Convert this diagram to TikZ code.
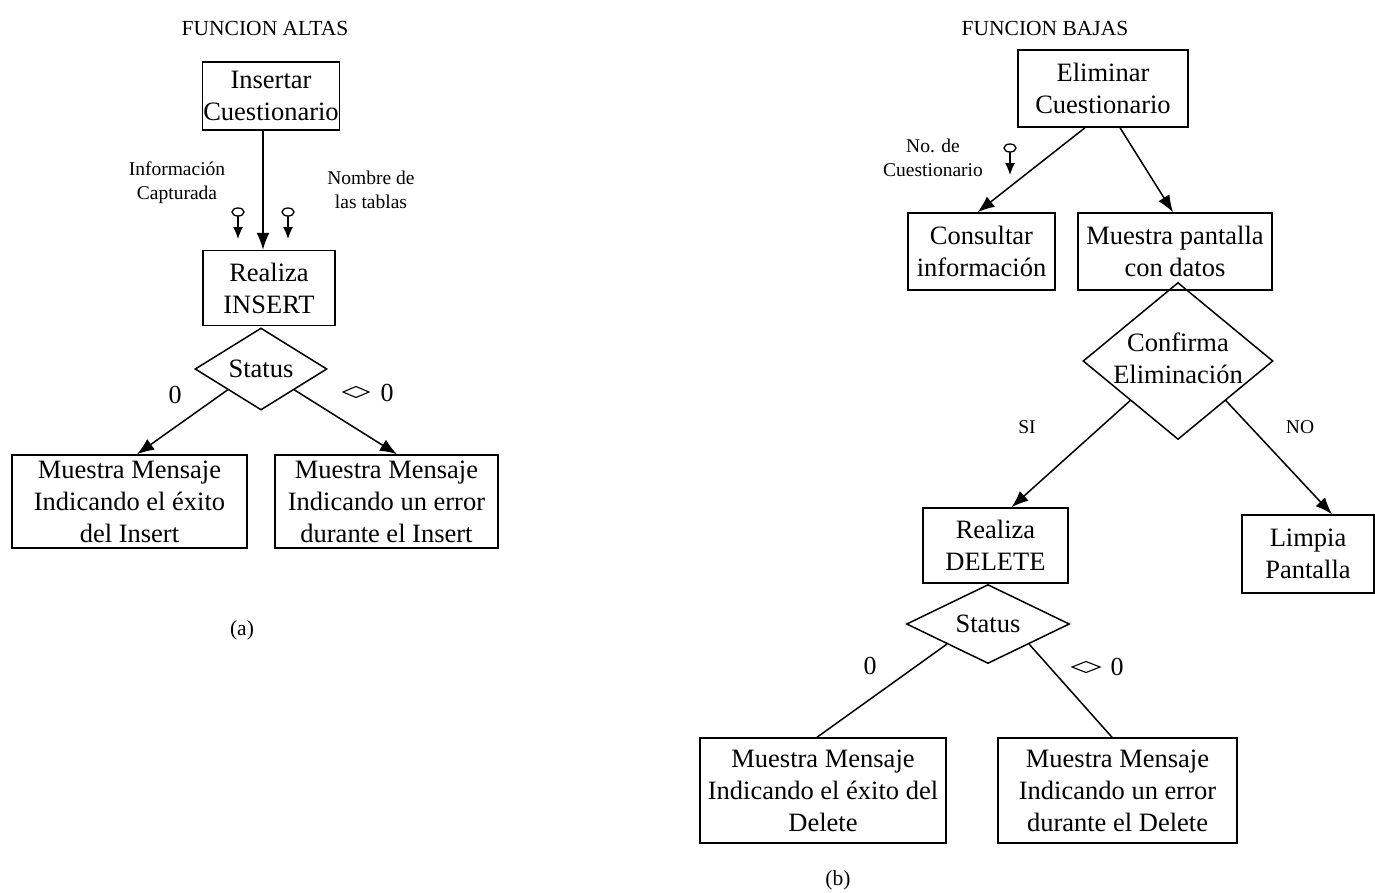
\documentclass[tikz,border=0pt]{standalone}
\usepackage{fontspec}
\setmainfont{Liberation Serif}
\usetikzlibrary{shapes.geometric,arrows.meta}
\begin{document}
\begin{tikzpicture}[x=1pt,y=-1pt,
  box/.style={draw, line width=1.5pt, inner sep=0pt, align=center,
    font=\fontsize{26.5}{32}\selectfont},
  dec/.style={draw, diamond, line width=1.5pt, inner sep=0pt},
  dectext/.style={align=center, font=\fontsize{26.5}{32}\selectfont},
  lbl/.style={align=center, font=\fontsize{19.5}{24}\selectfont},
  ttl/.style={font=\fontsize{21.5}{26}\selectfont},
  val/.style={font=\fontsize{26}{30}\selectfont},
  flow/.style={line width=1.5pt, -{Latex[length=17pt,width=13pt]}},
  link/.style={line width=1.5pt},
  neq/.style={line width=1.1pt},
  datokey/.pic={
    \draw[line width=1.3pt] (0,0) ellipse (6 and 4);
    \draw[line width=1.3pt, -{Latex[length=12pt,width=10pt]}] (0,4) -- (0,27);
  }
]
\useasboundingbox (0,0) rectangle (1375,892);

% ---------------- FUNCION ALTAS ----------------
\node[ttl] (t1) at (265,28) {FUNCION ALTAS};
\node[box, minimum width=137pt, minimum height=68pt] (ins) at (271,96) {Insertar\\Cuestionario};
\node[box, minimum width=132pt, minimum height=75pt] (real) at (269,288) {Realiza\\INSERT};
\node[dec, minimum width=132pt, minimum height=82pt] (st1) at (261,369) {};
\node[dectext] at (st1.center) {Status};
\node[box, minimum width=235pt, minimum height=93pt] (b1) at (129.5,501.5)
  {Muestra Mensaje\\Indicando el éxito\\del Insert};
\node[box, minimum width=223pt, minimum height=93pt] (b2) at (386.5,501.5)
  {Muestra Mensaje\\Indicando un error\\durante el Insert};

\node[lbl] (l1) at (177,183) {Información\\Capturada};
\node[lbl] (l2) at (371,190) {Nombre de\\las tablas};
\pic at (238,212) {datokey};
\pic at (288,212) {datokey};

\draw[flow] ([xshift=-8pt]ins.south) -- ([xshift=-6pt]real.north);
\draw[flow] (st1.south west) -- ([xshift=7.5pt]b1.north);
\draw[flow] (st1.south east) -- ([xshift=10.5pt]b2.north);

\node[val] (z1) at (175,395) {0};
\node[val] (n1) at (387,393) {0};
\draw[neq] (343,392) -- (356,386.5) -- (369,392) -- (356,397.5) -- cycle;
\node[ttl] (ca) at (242,630) {(a)};

% ---------------- FUNCION BAJAS ----------------
\node[ttl] (t2) at (1045,28) {FUNCION BAJAS};
\node[box, minimum width=170pt, minimum height=77pt] (elim) at (1103,88.5) {Eliminar\\Cuestionario};
\node[box, minimum width=147pt, minimum height=77pt] (cons) at (981.5,251.5) {Consultar\\información};
\node[box, minimum width=194pt, minimum height=77pt] (mp) at (1175,251.5) {Muestra pantalla\\con datos};
\node[dec, minimum width=190pt, minimum height=157pt] (conf) at (1178,361) {};
\node[dectext] at (1178,358) {Confirma\\Eliminación};
\node[box, minimum width=145pt, minimum height=75pt] (del) at (995.5,545.5) {Realiza\\DELETE};
\node[box, minimum width=132pt, minimum height=78pt] (limp) at (1308,554) {Limpia\\Pantalla};
\node[dec, minimum width=163pt, minimum height=79pt] (st2) at (988,624) {};
\node[dectext] at (st2.center) {Status};
\node[box, minimum width=246pt, minimum height=105pt] (b3) at (823,790.5)
  {Muestra Mensaje\\Indicando el éxito del\\Delete};
\node[box, minimum width=239pt, minimum height=105pt] (b4) at (1117.5,790.5)
  {Muestra Mensaje\\Indicando un error\\durante el Delete};

\node[lbl] (l3) at (933,158) {No. de\\Cuestionario};
\pic at (1010,148) {datokey};

\draw[flow] ([xshift=-18pt]elim.south) -- ([xshift=-4pt]cons.north);
\draw[flow] ([xshift=17pt]elim.south) -- ([xshift=-2pt]mp.north);
\draw[flow] (conf.south west) -- ([xshift=16pt]del.north);
\draw[flow] (conf.south east) -- ([xshift=24pt]limp.north);
\draw[link] (st2.south west) -- ([xshift=-6pt]b3.north);
\draw[link] (st2.south east) -- ([xshift=-5.5pt]b4.north);

\node[lbl] (si) at (1027,427) {SI};
\node[lbl] (no) at (1300,427) {NO};
\node[val] (z2) at (870,666) {0};
\node[val] (n2) at (1117,667) {0};
\draw[neq] (1072,667) -- (1086,661.5) -- (1100,667) -- (1086,672.5) -- cycle;
\node[ttl] (cb) at (838,880) {(b)};
\end{tikzpicture}
\end{document}
